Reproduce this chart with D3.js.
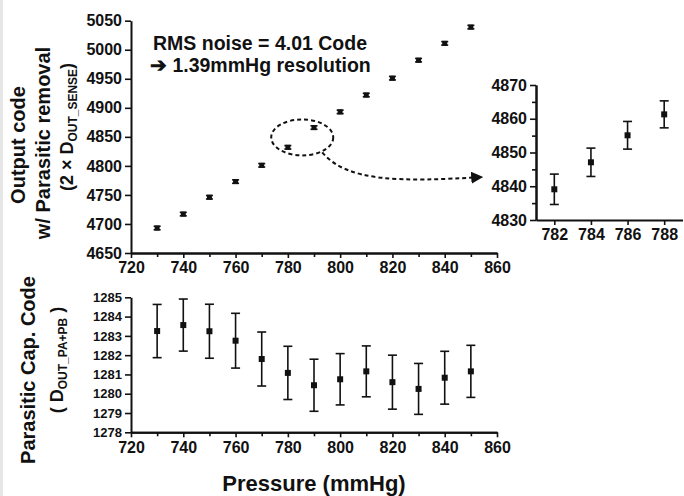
<!DOCTYPE html>
<html>
<head>
<meta charset="utf-8">
<script src="https://cdn.jsdelivr.net/npm/d3@7"></script>
<style>
  body { margin: 0; background: #fff; }
  text { font-family: Arial, "Liberation Sans", sans-serif; font-weight: bold; fill: #111; }
</style>
</head>
<body>
<svg id="display" width="684" height="496"></svg>
<script>
// main panel: output code vs pressure
var pressure = [730, 740, 750, 760, 770, 780, 790, 800, 810, 820, 830, 840, 850];
var outputCode = [4693, 4717, 4746, 4773, 4801, 4832, 4866, 4893, 4922, 4951, 4982, 5011, 5039];
var outputErr = [3, 3, 3, 3, 3, 3, 3, 3, 3, 3, 3, 3, 3];

// zoomed inset
var insetPressure = [782, 784, 786, 788];
var insetCode = [4839.1, 4847.1, 4855.1, 4861.3];
var insetErr = [4.5, 4.2, 4.1, 4.0];

// bottom panel: parasitic cap code
var parasiticCode = [1283.25, 1283.56, 1283.24, 1282.75, 1281.8, 1281.08, 1280.44, 1280.75, 1281.16, 1280.6, 1280.25, 1280.83, 1281.16];
var parasiticErr = [1.38, 1.35, 1.4, 1.42, 1.4, 1.38, 1.35, 1.33, 1.32, 1.4, 1.32, 1.37, 1.35];

var xTicks = [720, 740, 760, 780, 800, 820, 840, 860];
var topYTicks = [4650, 4700, 4750, 4800, 4850, 4900, 4950, 5000, 5050];
var botYTicks = [1278, 1279, 1280, 1281, 1282, 1283, 1284, 1285];
var insetXTicks = [782, 784, 786, 788];
var insetYTicks = [4830, 4840, 4850, 4860, 4870];

var svg = d3.select("#display");

// faint frame strip at the left edge, as in the scan
svg.append("rect")
    .attr("x", 0).attr("y", 0)
    .attr("width", 3).attr("height", 496)
    .attr("fill", "#e6e6e6");

var x = d3.scaleLinear().domain([720, 860]).range([131, 497]);
var yTop = d3.scaleLinear().domain([4650, 5050]).range([253, 20.7]);
var yBot = d3.scaleLinear().domain([1278, 1285]).range([432.3, 297.3]);
var xIn = d3.scaleLinear().domain([781, 789]).range([536, 682.5]);
var yIn = d3.scaleLinear().domain([4830, 4870]).range([220, 85]);

function styleAxis(size) {
  return function(sel) {
    sel.selectAll("path").attr("stroke", "#111").attr("stroke-width", 2);
    sel.selectAll("line").attr("stroke", "#111").attr("stroke-width", 1.6);
    sel.selectAll("text")
      .style("font-size", size + "px")
      .style("font-weight", "bold")
      .attr("fill", "#111");
  };
}

// minor ticks drawn as a second axis without labels
function drawXAxis(scale, yPos, ticks, minor) {
  if (minor) {
    svg.append("g")
        .attr("transform", "translate(0," + yPos + ")")
        .call(d3.axisBottom(scale).tickValues(minor).tickSize(4).tickFormat("").tickSizeOuter(0))
        .call(styleAxis(16));
  }
  svg.append("g")
      .attr("transform", "translate(0," + yPos + ")")
      .call(d3.axisBottom(scale).tickValues(ticks).tickSize(5).tickPadding(4).tickSizeOuter(0).tickFormat(d3.format("d")))
      .call(styleAxis(16));
}

function drawYAxis(scale, xPos, ticks, minor, size) {
  if (minor) {
    svg.append("g")
        .attr("transform", "translate(" + xPos + ",0)")
        .call(d3.axisLeft(scale).tickValues(minor).tickSize(4).tickFormat("").tickSizeOuter(0))
        .call(styleAxis(size));
  }
  svg.append("g")
      .attr("transform", "translate(" + xPos + ",0)")
      .call(d3.axisLeft(scale).tickValues(ticks).tickSize(6).tickPadding(3).tickSizeOuter(0).tickFormat(d3.format("d")))
      .call(styleAxis(size));
}

var xMinor = [730, 750, 770, 790, 810, 830, 850];

drawXAxis(x, 253, xTicks, xMinor);
drawYAxis(yTop, 131, topYTicks, null, 16);
drawXAxis(x, 432.3, xTicks, xMinor);
drawYAxis(yBot, 131, botYTicks, null, 13);
drawXAxis(xIn, 220, insetXTicks, null);
drawYAxis(yIn, 536, insetYTicks, [4835, 4845, 4855, 4865], 16);

function errorBars(xs, ys, errs, xs_, ys_, cap, box) {
  var data = xs.map(function(d, i) { return {x: d, y: ys[i], e: errs[i]}; });
  var g = svg.append("g");
  var pt = g.selectAll("g").data(data).enter().append("g");
  pt.append("line")
      .attr("x1", function(d) { return xs_(d.x); })
      .attr("x2", function(d) { return xs_(d.x); })
      .attr("y1", function(d) { return ys_(d.y - d.e); })
      .attr("y2", function(d) { return ys_(d.y + d.e); })
      .attr("stroke", "#111").attr("stroke-width", 1.6);
  [-1, 1].forEach(function(s) {
    pt.append("line")
        .attr("x1", function(d) { return xs_(d.x) - cap; })
        .attr("x2", function(d) { return xs_(d.x) + cap; })
        .attr("y1", function(d) { return ys_(d.y + s * d.e); })
        .attr("y2", function(d) { return ys_(d.y + s * d.e); })
        .attr("stroke", "#111").attr("stroke-width", 1.6);
  });
  pt.append("rect")
      .attr("x", function(d) { return xs_(d.x) - box / 2; })
      .attr("y", function(d) { return ys_(d.y) - box / 2; })
      .attr("width", box)
      .attr("height", box)
      .attr("fill", "#111");
}

errorBars(pressure, outputCode, outputErr, x, yTop, 3.5, 5);
errorBars(insetPressure, insetCode, insetErr, xIn, yIn, 4.5, 6);
errorBars(pressure, parasiticCode, parasiticErr, x, yBot, 4.5, 6);

// dashed ellipse round 780/790 points and arrow to the inset
var defs = svg.append("defs");
defs.append("marker")
    .attr("id", "head")
    .attr("viewBox", "0 0 10 10")
    .attr("refX", 9).attr("refY", 5)
    .attr("markerWidth", 6).attr("markerHeight", 6)
    .attr("markerUnits", "strokeWidth")
    .attr("orient", "auto")
  .append("path")
    .attr("d", "M0,0 L10,5 L0,10 Z")
    .attr("fill", "#111");

svg.append("ellipse")
    .attr("cx", x(785.5))
    .attr("cy", yTop(4849))
    .attr("rx", 31)
    .attr("ry", 18)
    .attr("fill", "none")
    .attr("stroke", "#111")
    .attr("stroke-width", 2)
    .attr("stroke-dasharray", "4,3");

svg.append("path")
    .attr("d", "M" + (x(785.5) + 20) + "," + (yTop(4849) + 15)
      + " C" + (x(785.5) + 45) + "," + 182 + " " + 400 + "," + 182 + " " + 482 + "," + 177)
    .attr("fill", "none")
    .attr("stroke", "#111")
    .attr("stroke-width", 2)
    .attr("stroke-dasharray", "4,3")
    .attr("marker-end", "url(#head)");

// annotation
svg.append("text")
    .attr("x", 153).attr("y", 50)
    .style("font-size", "19.5px")
    .text("RMS noise = 4.01 Code");
svg.append("text")
    .attr("x", 150).attr("y", 72)
    .style("font-size", "19.5px")
    .text("\u2794 1.39mmHg resolution");

// y titles
function vtitle(cx, cy, size) {
  return svg.append("text")
      .attr("transform", "translate(" + cx + "," + cy + ") rotate(-90)")
      .attr("text-anchor", "middle")
      .attr("dy", "0.35em")
      .style("font-size", size + "px");
}

vtitle(18, 145, 20).text("Output code");
vtitle(43, 143, 20).text("w/ Parasitic removal");
var t3 = vtitle(67, 127, 18);
t3.append("tspan").text("(2 \u00d7 D");
t3.append("tspan").attr("dy", "4").style("font-size", "12px").text("OUT_SENSE");
t3.append("tspan").attr("dy", "-4").text(")");

vtitle(28, 370, 20).text("Parasitic Cap. Code");
var t4 = vtitle(57, 360, 18);
t4.append("tspan").text("( D");
t4.append("tspan").attr("dy", "4").style("font-size", "12px").text("OUT_PA+PB");
t4.append("tspan").attr("dy", "-4").text(" )");

// x title
svg.append("text")
    .attr("x", 314).attr("y", 491)
    .attr("text-anchor", "middle")
    .style("font-size", "22px")
    .text("Pressure (mmHg)");
</script>
</body>
</html>
